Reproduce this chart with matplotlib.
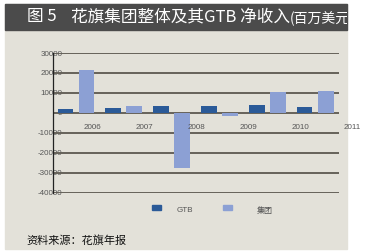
"""花旗集团整体及其GTB净收入（百万美元），分组柱状图。"""

import numpy as np
import matplotlib
matplotlib.use("Agg")
import matplotlib.pyplot as plt
from matplotlib.patches import Rectangle

plt.rcParams["font.family"] = ["Noto Sans CJK SC", "DejaVu Sans"]
plt.rcParams["axes.unicode_minus"] = False

# 数据（从原图读取，百万美元）
years = ["2006", "2007", "2008", "2009", "2010", "2011"]
gtb = [1700, 2200, 3300, 3300, 3800, 3000]
group = [21500, 3600, -27700, -1600, 10600, 11100]
y_ticks = [30000, 20000, 10000, 0, -10000, -20000, -30000, -40000]

C_GTB = "#2b5a98"
C_GROUP = "#8ca0d4"
C_BG = "#e3e1d9"
C_GRID = "#66625a"
NUM_FONT = ["Liberation Sans", "DejaVu Sans"]

fig = plt.figure(figsize=(3.67, 2.52), dpi=100)
W, H = 367, 252

# 背景面板和标题栏
fig.patches.append(Rectangle((5 / W, 1 - 249 / H), 342 / W, 245 / H,
                             transform=fig.transFigure, color=C_BG, zorder=-2))
bar = Rectangle((5 / W, 1 - 30 / H), 342 / W, 26 / H,
                transform=fig.transFigure, color="#4b4b4b", zorder=-1)
fig.patches.append(bar)

fig.text(27 / W, 1 - 17 / H, "图 5", color="white", fontsize=12,
         va="center", ha="left")
fig.text(71 / W, 1 - 17 / H, "花旗集团整体及其GTB 净收入",
         color="white", fontsize=12, va="center", ha="left")
t = fig.text(290 / W, 1 - 18.5 / H, "(百万美元)", color="white",
             fontsize=10, va="center", ha="left")
t.set_clip_path(bar)

ax = fig.add_axes([53.3 / W, 1 - 192.5 / H, (339 - 53.3) / W, (192.5 - 53) / H])
ax.set_zorder(5)
ax.set_facecolor("none")

x = np.arange(len(years))
w = 0.33
ax.bar(x - 0.22, gtb, w, color=C_GTB, zorder=3)
ax.bar(x + 0.22, group, w, color=C_GROUP, zorder=3)

ax.set_xlim(-0.475, 5.5)
ax.set_ylim(-40000, 30000)
ax.set_yticks(y_ticks)
ax.set_yticklabels([str(v) for v in y_ticks], fontsize=5.8, color="#555555",
                   family=NUM_FONT)
ax.tick_params(axis="y", length=0, pad=-6.5)
ax.set_xticks([])
for v in y_ticks:
    ax.axhline(v, color=C_GRID, lw=1.4, zorder=2)

for s in ["top", "right", "bottom"]:
    ax.spines[s].set_visible(False)
ax.spines["left"].set_color("#222222")
ax.spines["left"].set_linewidth(0.9)
ax.spines["left"].set_zorder(4)

# 年份标签（原图中相对柱组有偏移）
for i, yr in enumerate(years):
    ax.text(0.335 + 1.088 * i, -7500, yr, ha="center", va="center",
            fontsize=5.8, color="#555555", clip_on=False, family=NUM_FONT)

# 图例
fig.patches.append(Rectangle((152 / W, 1 - 210 / H), 9 / W, 5 / H,
                             transform=fig.transFigure, color=C_GTB))
fig.text(177 / W, 1 - 211 / H, "GTB", fontsize=5.8, color="#555555",
         va="center", family=NUM_FONT)
fig.patches.append(Rectangle((223 / W, 1 - 210 / H), 9 / W, 5 / H,
                             transform=fig.transFigure, color=C_GROUP))
fig.text(257 / W, 1 - 211 / H, "集团", fontsize=5.8, color="#555555",
         va="center")

fig.text(26 / W, 1 - 240 / H, "资料来源：花旗年报", fontsize=8,
         color="#111111", va="center")

fig.savefig("out.png", dpi=100)
